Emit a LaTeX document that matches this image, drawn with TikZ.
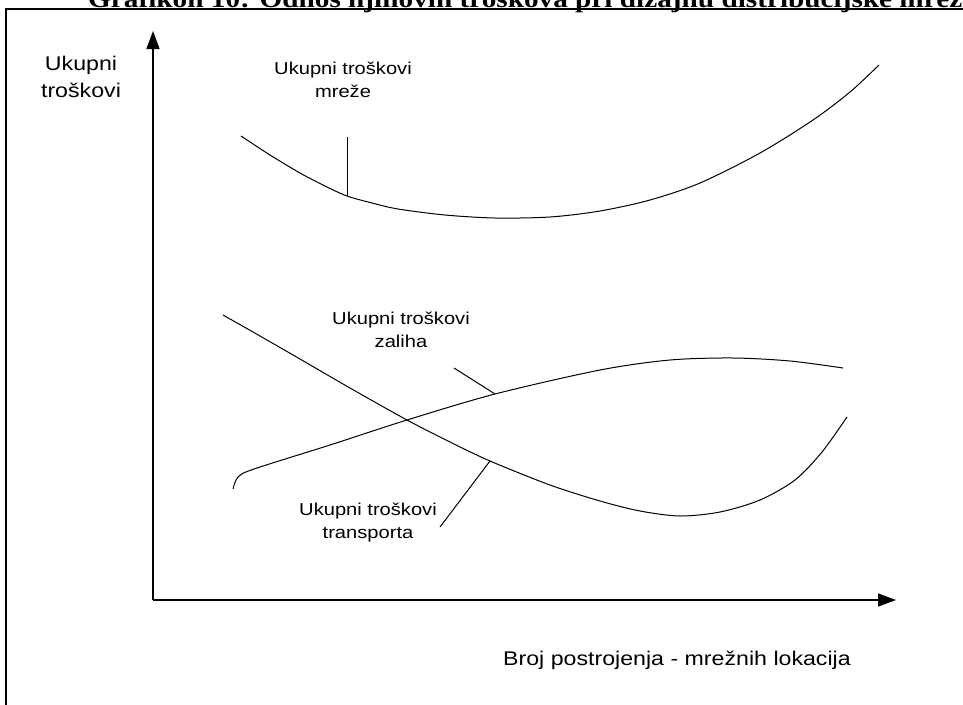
\documentclass[tikz,border=0pt]{standalone}
\usepackage{fontspec}
\setmainfont{Liberation Serif}
\newfontfamily\lblfont[FakeStretch=1.17]{Liberation Sans}
\newfontfamily\ttlfont[FakeStretch=1.17]{Liberation Serif}
\usetikzlibrary{arrows.meta}

\begin{document}
\begin{tikzpicture}
[x=1pt, y=-1pt, >={Triangle[length=18pt,width=13pt]},
lbl/.style = 
{align=center, inner sep=0pt, anchor=base, font=\lblfont\fontsize{17.2}{23}\selectfont},
axlbl/.style = 
{align=center, inner sep=0pt, anchor=base, font=\lblfont\fontsize{19.8}{27}\selectfont},
curve/.style = {line width=1pt},
axis/.style = {line width=1.4pt, ->},
leader/.style = {line width=1pt}]
\useasboundingbox (0,0) rectangle (963,704);

\node [inner sep=0pt, anchor=base west, font=\ttlfont\bfseries\fontsize{25}{30}\selectfont] (title) at (88,7) {Grafikon 10: Odnos njihovih troškova pri dizajnu distribucijske mreže};
\draw [line width=2pt] (6,715) -- (6,9) -- (975,9);

\coordinate (O) at (153,600);
\coordinate (ytip) at (153,31);
\coordinate (xtip) at (896,600);
\draw [axis] (O) -- (ytip);
\draw [axis] (O) -- (xtip);

\node [axlbl] (ylab) at (81,97) {Ukupni\\troškovi};
\node [axlbl] (xlab) at (677,665) {Broj postrojenja - mrežnih lokacija};

\draw [curve] plot[smooth] coordinates
{(241,136) (270,155) (300,173) (325,186) (347,196) (372,203) (398,209) (445,215) (495,218)
(550,217) (600,211) (650,200) (700,183) (760,153) (813,120) (850,92) (879,65)};
\draw [curve] plot[smooth] coordinates
{(233,489) (238,477) (254,469) (330,445) (407,420) (495,394) (600,370) (670,360) (733,358) (790,361) (843,368)};
\draw [curve] plot[smooth] coordinates
{(223,315) (260,336) (300,359) (350,388) (407,420) (450,442) (490,461) (550,485) (600,501)
(640,511) (680,516) (720,512) (760,500) (795,480) (822,452) (847,417)};

\node [lbl] (mreza) at (343,97) {Ukupni troškovi\\mreže};
\node [lbl] (zalihe) at (401,347) {Ukupni troškovi\\zaliha};
\node [lbl] (transp) at (368,538) {Ukupni troškovi\\transporta};

\coordinate (m1) at (347,137);
\coordinate (m2) at (347,196);
\coordinate (z1) at (454,368);
\coordinate (z2) at (495,394);
\coordinate (t1) at (440,527);
\coordinate (t2) at (490,461);
\draw [leader] (m1) -- (m2);
\draw [leader] (z1) -- (z2);
\draw [leader] (t1) -- (t2);

\end{tikzpicture}
\end{document}
